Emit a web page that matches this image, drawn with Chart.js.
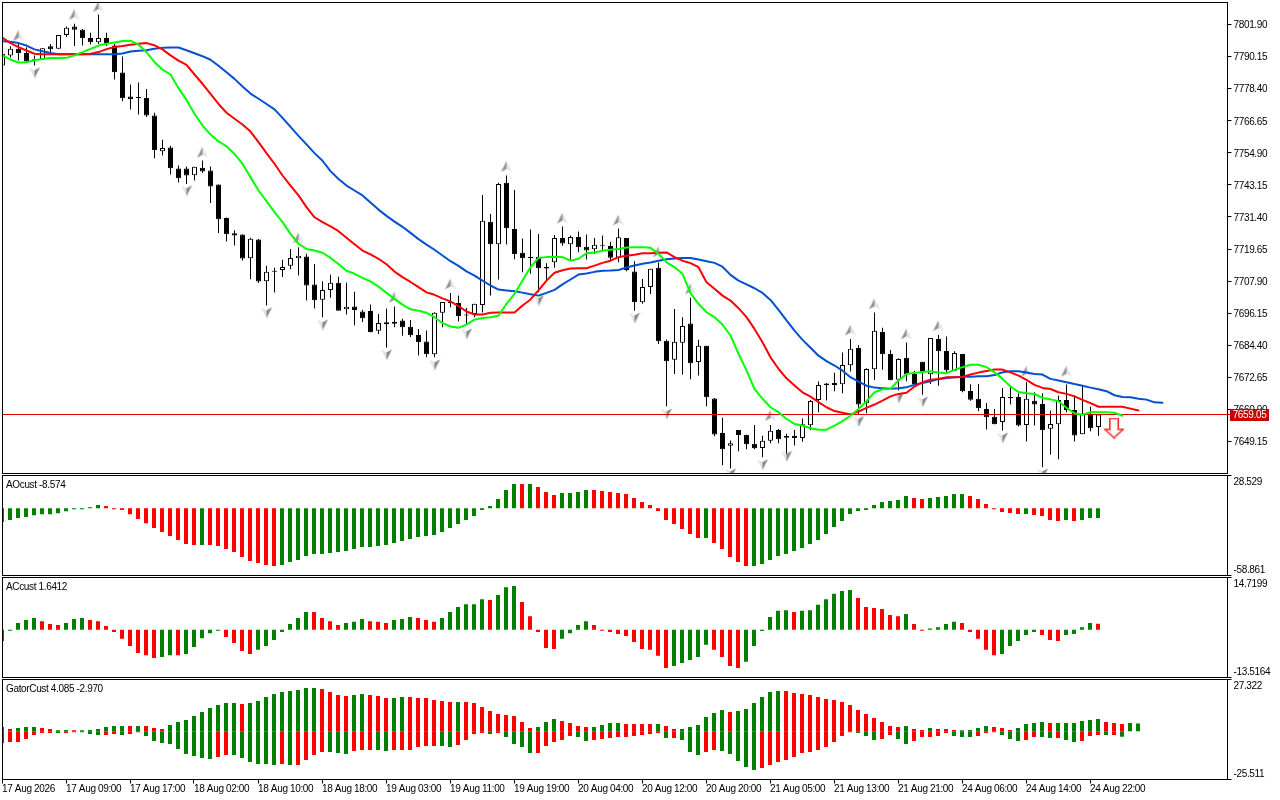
<!DOCTYPE html>
<html><head><meta charset="utf-8"><title>Chart</title>
<script src="https://cdn.jsdelivr.net/npm/chart.js@4/dist/chart.umd.min.js"></script>
<style>html,body{margin:0;padding:0;background:#fff;overflow:hidden}canvas{position:absolute;left:0;display:block}</style>
</head><body>
<canvas id="cMain" width="1280" height="474" style="top:0"></canvas>
<canvas id="cAO" width="1280" height="102" style="top:474px"></canvas>
<canvas id="cAC" width="1280" height="102" style="top:576px"></canvas>
<canvas id="cGator" width="1280" height="122" style="top:678px"></canvas>
<script>
const opens=[7786.9,7790.6,7793.0,7791.5,7788.7,7789.3,7793.9,7793.0,7798.1,7801.2,
7800.0,7797.0,7795.4,7797.0,7794.2,7784.3,7775.5,7775.0,7775.0,7768.6,
7755.5,7756.9,7749.2,7749.2,7746.7,7749.4,7748.4,7743.3,7731.0,7725.4,
7725.0,7716.3,7723.2,7707.9,7711.3,7712.0,7713.5,7716.3,7716.9,7706.7,
7701.1,7704.7,7707.3,7697.6,7698.6,7696.8,7697.0,7689.7,7692.8,7692.3,
7693.5,7691.2,7688.2,7685.8,7681.1,7696.3,7699.9,7699.9,7695.3,7695.9,
7699.2,7729.7,7721.4,7743.9,7727.0,7718.3,7716.4,7716.7,7713.2,7714.8,
7723.7,7721.4,7724.1,7720.5,7719.6,7720.9,7720.8,7716.5,7723.7,7711.4,
7700.2,7705.8,7712.8,7686.1,7679.1,7685.3,7692.4,7678.3,7684.2,7664.9,
7652.3,7647.6,7653.4,7651.6,7648.3,7646.8,7649.4,7653.4,7650.5,7651.3,
7650.4,7655.1,7664.4,7670.4,7669.9,7670.1,7677.1,7683.4,7663.2,7675.6,
7689.3,7681.2,7671.8,7679.8,7673.9,7678.4,7673.8,7686.7,7682.3,7675.1,
7681.2,7667.7,7664.8,7661.1,7658.2,7656.3,7665.5,7665.5,7655.2,7664.1,
7662.9,7653.8,7655.5,7664.4,7660.7,7651.8,7658.9,7654.5];
const highs=[7792.4,7793.9,7795.4,7793.6,7790.6,7793.2,7794.8,7798.1,7801.2,7802.2,
7800.3,7798.9,7805.6,7798.9,7794.8,7790.2,7779.9,7780.7,7778.3,7769.6,
7759.7,7757.5,7750.3,7749.9,7749.8,7752.1,7749.9,7743.3,7731.2,7726.5,
7725.0,7723.8,7723.3,7713.5,7712.8,7715.7,7719.7,7720.3,7717.9,7714.2,
7707.9,7710.2,7709.5,7707.3,7704.0,7697.4,7699.3,7695.9,7697.9,7698.6,
7694.1,7693.7,7690.4,7689.8,7696.5,7700.3,7703.6,7702.6,7698.1,7699.6,
7739.5,7732.5,7743.9,7746.6,7741.3,7723.5,7726.8,7725.2,7714.5,7724.8,
7727.9,7724.6,7726.1,7725.0,7723.7,7724.6,7722.3,7727.2,7723.7,7715.2,
7708.7,7712.4,7714.7,7686.5,7697.7,7694.7,7701.8,7686.4,7684.2,7665.1,
7657.9,7649.5,7653.4,7651.6,7655.2,7651.3,7655.2,7653.7,7652.0,7653.4,
7657.6,7664.4,7671.1,7670.6,7674.3,7681.8,7686.7,7684.5,7676.0,7696.4,
7690.8,7682.7,7679.7,7685.4,7675.1,7678.4,7687.1,7688.2,7687.6,7682.2,
7681.2,7670.1,7670.2,7663.3,7661.1,7668.8,7669.6,7666.8,7670.9,7667.2,
7666.8,7660.5,7666.0,7670.0,7666.0,7669.4,7661.9,7659.05];
const lows=[7786.9,7789.7,7788.7,7788.4,7786.9,7789.3,7791.8,7793.0,7797.3,7794.0,
7794.2,7794.6,7794.8,7794.0,7781.8,7773.8,7770.8,7768.9,7768.0,7752.9,
7753.9,7747.0,7744.0,7743.5,7744.8,7747.5,7736.5,7725.5,7722.4,7721.0,
7715.5,7708.6,7707.2,7699.0,7703.7,7709.4,7712.3,7710.0,7700.8,7697.9,
7694.7,7701.8,7697.1,7695.7,7691.7,7692.9,7689.2,7688.5,7683.6,7691.0,
7687.9,7687.4,7680.7,7680.0,7680.0,7691.0,7698.3,7693.1,7692.0,7694.7,
7696.4,7702.6,7708.5,7721.3,7715.9,7711.2,7710.6,7703.8,7708.1,7712.8,
7720.9,7715.7,7718.5,7715.8,7717.9,7719.1,7715.4,7714.8,7711.5,7697.1,
7699.6,7703.2,7684.9,7662.1,7673.9,7673.7,7672.0,7673.3,7662.1,7651.1,
7640.5,7639.3,7645.6,7646.3,7646.3,7643.4,7648.5,7648.5,7642.8,7647.7,
7649.1,7653.4,7659.9,7664.2,7667.6,7666.8,7674.8,7659.0,7659.5,7671.7,
7675.4,7671.6,7667.8,7671.2,7670.0,7666.3,7670.2,7669.6,7674.5,7675.1,
7667.2,7664.1,7660.2,7653.6,7655.5,7653.2,7662.7,7654.7,7649.2,7655.0,
7639.7,7644.4,7642.7,7659.9,7649.2,7651.8,7652.9,7651.3];
const closes=[7791.2,7793.0,7791.5,7788.4,7789.2,7793.2,7792.8,7798.1,7800.7,7800.0,
7796.9,7795.4,7797.0,7795.1,7784.4,7774.9,7774.6,7775.0,7768.6,7755.9,
7756.7,7749.3,7745.6,7746.6,7749.8,7748.1,7742.6,7730.6,7725.1,7724.6,
7716.2,7723.4,7707.8,7711.3,7711.3,7713.1,7716.4,7717.2,7706.3,7700.9,
7704.7,7707.3,7697.1,7698.5,7697.3,7694.3,7689.2,7692.6,7692.1,7693.0,
7691.0,7688.1,7685.5,7681.1,7696.3,7700.3,7699.9,7695.1,7695.3,7699.6,
7730.0,7721.4,7743.5,7727.3,7717.8,7716.3,7716.4,7712.6,7712.5,7723.7,
7721.7,7724.1,7720.3,7719.1,7721.2,7720.9,7716.5,7724.0,7712.0,7700.2,
7705.8,7712.4,7685.9,7678.6,7685.7,7691.5,7677.8,7684.2,7665.4,7651.7,
7646.3,7648.5,7651.5,7648.2,7646.7,7649.4,7653.1,7650.0,7651.2,7650.4,
7655.5,7664.0,7669.9,7669.8,7670.6,7677.2,7683.1,7662.7,7675.7,7689.7,
7681.1,7671.6,7679.4,7673.9,7670.2,7674.5,7687.1,7682.2,7675.3,7681.6,
7667.6,7664.5,7661.3,7658.0,7655.5,7665.5,7665.0,7655.0,7664.8,7662.7,
7653.3,7655.6,7664.4,7660.7,7651.4,7659.3,7654.0,7659.05];
const jaw=[7795.8,7795.6,7795.1,7794.2,7792.8,7792.1,7791.5,7791.0,7791.0,7791.0,
7791.0,7791.0,7791.0,7791.0,7791.0,7791.3,7792.0,7792.3,7792.5,7793.0,
7793.4,7793.5,7793.5,7792.5,7791.4,7790.3,7789.0,7786.8,7784.4,7782.0,
7779.2,7776.6,7774.7,7772.8,7770.8,7767.7,7764.4,7761.1,7758.0,7754.8,
7752.0,7748.2,7745.3,7742.9,7741.1,7739.3,7736.7,7734.1,7731.8,7729.7,
7727.8,7725.6,7723.3,7721.3,7719.4,7717.3,7715.2,7713.5,7711.5,7709.9,
7708.1,7706.3,7704.8,7704.5,7704.2,7703.7,7703.1,7702.6,7703.6,7704.7,
7706.7,7708.5,7710.3,7710.7,7711.3,7711.7,7711.8,7712.0,7712.9,7713.6,
7714.3,7714.7,7715.4,7715.9,7716.2,7716.4,7716.4,7715.8,7715.2,7714.6,
7713.2,7710.2,7708.1,7706.7,7705.3,7703.6,7701.0,7697.4,7693.5,7689.8,
7686.4,7683.5,7680.6,7678.6,7677.0,7675.1,7672.7,7671.1,7669.6,7668.9,
7668.7,7668.5,7668.7,7669.0,7670.0,7670.6,7671.2,7672.0,7672.4,7672.7,
7672.9,7672.9,7673.1,7673.1,7673.5,7674.5,7674.9,7674.9,7674.4,7673.9,
7673.7,7672.1,7671.5,7670.9,7670.2,7669.6,7668.9,7668.3,7667.6,7666.1,
7665.5,7665.4,7664.8,7664.5,7663.5,7663.4];
const teeth=[7797.0,7795.1,7793.6,7792.4,7791.2,7791.0,7791.0,7791.0,7791.0,7791.0,
7791.0,7791.2,7791.8,7792.9,7793.7,7794.0,7794.5,7794.9,7795.1,7794.3,
7792.8,7790.6,7788.7,7787.1,7783.6,7780.2,7776.5,7772.8,7769.6,7767.4,
7765.3,7762.7,7758.8,7754.8,7750.9,7746.6,7742.9,7739.3,7735.0,7731.3,
7729.5,7728.0,7726.2,7723.8,7721.4,7719.1,7717.7,7716.1,7714.1,7711.4,
7709.4,7707.6,7705.7,7703.8,7702.9,7701.6,7700.5,7698.7,7696.8,7695.7,
7695.7,7696.3,7696.4,7696.4,7696.4,7699.0,7701.2,7704.5,7708.1,7711.0,
7711.9,7712.5,7712.6,7712.6,7713.6,7714.6,7715.4,7716.7,7717.2,7717.6,
7718.1,7718.1,7718.3,7718.4,7716.7,7715.4,7714.5,7713.0,7707.5,7705.1,
7702.6,7700.8,7698.0,7694.7,7690.4,7685.5,7680.0,7675.8,7672.3,7669.7,
7667.2,7665.6,7663.6,7661.7,7660.3,7659.7,7659.1,7660.1,7661.5,7662.7,
7664.1,7665.7,7666.6,7667.0,7669.3,7670.9,7671.8,7672.1,7672.7,7672.7,
7672.8,7673.7,7674.4,7675.0,7675.5,7675.5,7674.5,7673.3,7671.7,7669.9,
7668.8,7668.4,7667.2,7666.6,7665.7,7664.4,7663.2,7661.9,7661.9,7661.9,
7661.9,7661.2,7660.5];
const lips=[7790.6,7789.0,7788.0,7788.1,7788.8,7789.3,7789.6,7789.6,7789.7,7790.6,
7791.8,7793.0,7794.2,7794.9,7795.3,7795.9,7796.0,7794.5,7791.8,7788.1,
7785.4,7783.6,7778.6,7774.3,7769.2,7764.9,7761.6,7759.1,7757.3,7754.5,
7750.9,7746.0,7741.1,7737.2,7733.2,7729.5,7725.2,7721.6,7719.7,7719.1,
7718.3,7716.4,7714.2,7711.7,7710.6,7709.1,7707.8,7705.9,7703.6,7701.4,
7699.3,7697.6,7697.1,7696.3,7694.7,7692.5,7691.3,7690.8,7692.0,7693.8,
7694.4,7694.7,7695.2,7699.6,7703.2,7708.1,7713.0,7716.4,7716.7,7716.7,
7716.7,7715.4,7716.1,7718.1,7718.4,7719.0,7719.4,7719.7,7720.2,7720.3,
7720.3,7720.1,7717.9,7714.8,7713.0,7710.6,7703.5,7699.6,7696.5,7694.7,
7692.0,7688.0,7681.3,7675.2,7668.4,7664.8,7661.7,7659.9,7657.4,7655.6,
7655.0,7654.0,7653.5,7653.5,7655.0,7656.6,7658.6,7661.1,7663.9,7667.2,
7668.3,7668.4,7671.5,7673.9,7674.3,7674.6,7674.9,7674.4,7674.2,7675.4,
7676.4,7677.3,7677.3,7676.4,7674.5,7672.1,7669.3,7667.3,7666.8,7666.6,
7665.1,7664.6,7663.9,7661.5,7659.5,7659.0,7659.9,7659.9,7659.9,7659.7,
7658.6];
const fractalUpBars=[2,9,12,25,37,49,56,63,70,77,82,86,96,106,109,113,117,128,133];
const fractalUpPrices=[7797.9,7805.6,7808.5,7755.1,7723.8,7702.0,7706.9,7749.9,7731.0,7730.3,7718.7,7705.1,7658.7,7690.0,7699.6,7688.6,7691.6,7674.9,7674.9];
const fractalDownBars=[4,23,33,40,48,54,58,67,79,83,91,95,98,107,112,115,125,130];
const fractalDownPrices=[7784.2,7741.0,7696.3,7691.9,7680.9,7677.2,7688.6,7700.8,7694.4,7659.3,7637.3,7640.7,7643.7,7656.5,7665.1,7663.7,7650.5,7637.3];
const signalBars=[138.94];
const signalPrices=[7654.1];
const lastPrice=7659.05;
const lastPriceLabel='7659.05';
const priceTicks=[7801.90,7790.15,7778.40,7766.65,7754.90,7743.15,7731.40,7719.65,7707.90,7696.15,7684.40,7672.65,7660.90,7649.15];

const aoValues=[-12.1,-10.4,-8.6,-7.7,-6.3,-5.4,-5.4,-4.5,-2.8,-0.5,
-0.5,0.4,2.7,1.9,-0.5,-1.6,-5.4,-9.5,-13.3,-17.4,
-20.9,-24.4,-27.8,-31.3,-32.2,-32.2,-32.2,-33.1,-35.7,-38.3,
-42.7,-46.2,-47.9,-49.7,-50.6,-49.7,-47.1,-45.3,-41.8,-40.1,
-40.1,-39.2,-38.3,-37.5,-35.7,-34.0,-34.0,-33.1,-32.2,-30.5,
-28.7,-27.0,-25.2,-24.4,-23.5,-20.9,-17.4,-13.9,-10.4,-6.9,
-1.6,1.9,8.0,15.8,21.1,21.1,21.1,18.5,14.1,11.5,
13.2,13.2,14.1,15.8,15.8,14.9,14.1,13.2,12.4,8.9,
5.4,2.7,-2.5,-10.4,-13.9,-18.2,-22.6,-26.1,-26.1,-30.5,
-35.7,-42.7,-47.1,-50.6,-50.6,-48.8,-45.3,-41.8,-40.1,-37.5,
-34.8,-31.3,-27.8,-22.6,-16.5,-11.2,-5.1,-2.5,-1.6,2.7,
5.4,6.2,7.1,10.6,8.9,8.0,8.9,9.8,10.6,12.4,
12.4,10.6,8.0,3.6,-0.5,-3.4,-4.3,-5.1,-5.1,-6.0,
-6.9,-10.4,-11.2,-10.4,-11.2,-10.4,-8.6,-8.574];
const aoColors=('GGGGGGGGGGGGG RRRRRRRRRRRR G RRRRRRRRR GGGGGGGGGGGGGGGGGGGGGGGGGGGGGG R G RRR GGGG RRRRRRRRRRRRRR G RRRRR GGGGGGGGGGGGGGGGGGGG RR GGGGG RRRRRRR G RRRR G R GGG').replace(/ /g,'');
const aoBounds=[28.529,-58.861];
const aoLabels=['28.529','-58.861'];

const acValues=[-3.2,-0.2,1.9,2.7,3.3,2.4,1.6,1.3,1.9,3.0,
3.3,2.7,2.4,1.0,-0.7,-2.6,-4.6,-6.6,-7.2,-8.0,
-7.7,-7.2,-7.2,-6.9,-4.9,-2.4,-1.0,-0.3,-2.1,-3.8,
-6.0,-6.9,-5.7,-4.6,-2.9,-0.7,1.6,3.3,5.0,5.0,
3.3,2.4,1.3,1.9,2.2,3.0,2.4,2.2,1.9,2.7,
3.0,3.6,3.3,2.7,2.2,3.3,5.0,6.4,7.2,7.2,
8.6,8.4,9.8,12.0,12.3,7.8,3.8,-0.7,-5.2,-5.5,
-2.6,-1.0,1.3,2.4,1.3,-0.1,-0.7,-1.2,-1.8,-3.5,
-5.5,-5.7,-7.4,-10.8,-10.3,-9.4,-8.6,-7.7,-4.3,-5.7,
-7.7,-10.3,-10.8,-9.1,-4.6,-0.4,3.6,5.3,5.5,5.0,
5.3,5.5,7.0,8.6,10.1,10.9,11.2,8.9,6.4,6.1,
5.8,4.1,3.8,4.4,1.6,-0.1,0.3,0.7,1.6,2.2,
1.9,-0.7,-2.6,-5.7,-7.2,-6.9,-4.6,-3.2,-1.5,-0.7,
-1.5,-2.9,-3.2,-1.5,-1.2,0.7,1.9,1.6412];
const acColors=('GGGGG RRR GGG RRRRRRRRR GG R GGGGG RRRR GGGGGGG RRRR GGG RRR GGG RRR GGGGGG R GGG RRRRR GGGG RRRRRRRRRR GGGGG RRRR GGGGGG R GGGGGGG RRRRRR G RR GGGG RRRRR GGGGG RRR GGGG R').replace(/ /g,'');
const acBounds=[14.7199,-13.5164];
const acLabels=['14.7199','-13.5164'];

const gatorUp=[2.2,1.2,1.7,2.2,2.2,1.7,1.2,0.3,0.6,0.1,
0.1,0.6,1.2,2.2,2.7,2.7,2.7,2.7,2.7,1.7,
1.2,3.3,4.9,5.9,8.0,10.1,12.3,13.8,14.9,14.9,
14.4,14.9,16.0,18.1,19.7,20.7,21.2,21.8,22.8,22.8,
22.3,20.7,19.1,18.6,19.1,19.7,19.1,18.6,17.5,17.5,
18.1,18.1,17.5,17.5,16.5,16.0,15.4,15.4,15.4,14.9,
12.8,10.7,9.1,8.6,8.0,4.9,1.7,2.2,4.9,6.4,
5.4,4.3,2.7,2.2,2.2,3.3,4.3,4.3,3.8,3.8,
3.8,3.8,3.8,2.7,1.2,1.2,2.2,3.3,7.5,9.6,
11.2,10.1,10.7,11.7,14.9,18.1,20.7,21.2,21.2,20.2,
19.7,19.1,18.1,17.0,16.5,15.4,13.8,11.2,9.1,7.0,
4.9,2.7,2.2,2.7,1.2,0.6,1.7,1.2,1.2,0.6,
0.1,0.6,1.7,2.7,2.2,1.7,0.6,1.7,3.8,4.3,
4.9,4.3,4.3,4.3,4.3,5.4,5.9,6.4,4.9,4.3,
3.8,4.3,4.085];
const gatorUpColors=('RR GGG RR GG R GGGGGG R G RRR GGGGGGGGG R GGGGGGGGG RRRR GG RRR GG RRRRRR G RRRRRRRRR GGG RRRR GGGG RRRR G RR GGGGGG R GGGGGG RRRRRRRRRRRRRRR G RR G RRR GGGG RRR GGGG R GGGGGG RRR GG').replace(/ /g,'');
const gatorDown=[-6.2,-5.7,-5.7,-4.1,-2.0,-1.0,-1.0,-1.0,-1.0,-0.4,
-0.3,-1.5,-2.0,-2.0,-1.5,-2.0,-1.5,-0.4,-2.5,-5.2,
-6.2,-6.7,-9.4,-12.0,-13.1,-14.2,-14.7,-13.6,-12.6,-12.6,
-14.2,-16.3,-17.3,-17.3,-17.8,-17.3,-17.8,-17.8,-15.2,-12.6,
-11.0,-11.0,-11.5,-12.0,-10.5,-9.9,-9.9,-9.9,-10.5,-9.9,
-9.9,-9.9,-8.3,-7.8,-7.8,-7.8,-8.3,-7.3,-4.6,-1.5,
-1.0,-1.5,-1.0,-3.1,-6.7,-8.3,-11.5,-11.5,-7.8,-5.7,
-4.6,-2.5,-3.1,-5.2,-4.6,-4.1,-3.6,-3.1,-3.1,-2.5,
-2.0,-1.5,-1.0,-3.6,-3.6,-4.6,-11.0,-12.6,-11.0,-9.9,
-10.5,-12.0,-15.7,-18.9,-20.5,-19.4,-17.8,-16.3,-15.2,-13.6,
-11.5,-11.0,-9.9,-8.3,-5.7,-2.5,-0.4,-1.0,-2.5,-4.6,
-4.1,-2.0,-4.1,-6.7,-5.2,-3.1,-3.1,-2.5,-1.0,-2.5,
-3.1,-3.1,-2.5,-1.0,-0.4,-2.0,-4.1,-5.2,-4.6,-3.1,
-3.1,-3.6,-3.6,-4.6,-5.7,-5.2,-2.5,-2.0,-2.0,-2.0,
-2.97];
const gatorDownColors=('G RRRRRR G RR GGG RR G RR GGGGGGGGG RR GGGGGG R G RRRR GGG RRR GG RRRRRR GG RRRR G R GGGG RRRRR GG RRRRRRRRR G R GGG RR GGGGG RRRRRRRRRRRR GGG RR GG RRRRR GGG RRR GGG RR GG R GG RRR G R G').replace(/ /g,'');
const gatorBounds=[27.322,-25.511];
const gatorLabels=['27.322','-25.511'];

const timeTickBars=[0,8,16,24,32,40,48,56,64,72,80,88,96,104,112,120,128,136];
const timeTickLabels=['17 Aug 2026','17 Aug 09:00','17 Aug 17:00','18 Aug 02:00','18 Aug 10:00','18 Aug 18:00','19 Aug 03:00','19 Aug 11:00','19 Aug 19:00','20 Aug 04:00','20 Aug 12:00','20 Aug 20:00','21 Aug 05:00','21 Aug 13:00','21 Aug 21:00','24 Aug 06:00','24 Aug 14:00','24 Aug 22:00'];

const FONT='"Liberation Sans", sans-serif';
const FS=10;
Chart.defaults.font.family=FONT;
Chart.defaults.font.size=FS;
Chart.defaults.color='#000';
const GREEN='#008000',RED='#ff0000';
const colorOf=c=>c==='G'?GREEN:RED;

function dart(up){
  const w=12,h=12,c=document.createElement('canvas');c.width=w;c.height=h;const x=c.getContext('2d');
  const tipY=up?0.5:11.5,cornerY=up?11.5:0.5,notchY=up?8.5:3.5,m=6;
  x.beginPath();x.moveTo(m,tipY);x.lineTo(0.5,cornerY);x.lineTo(m,notchY);x.closePath();
  x.fillStyle=up?'#94908e':'#dfe3ec';x.fill();
  x.beginPath();x.moveTo(m,tipY);x.lineTo(11.5,cornerY);x.lineTo(m,notchY);x.closePath();
  x.fillStyle=up?'#dfe3ec':'#8b8682';x.fill();
  return c;
}
function signalArrow(){
  const c=document.createElement('canvas');c.width=20;c.height=21;const x=c.getContext('2d');
  x.beginPath();x.moveTo(6,1);x.lineTo(14,1);x.lineTo(14,12);x.lineTo(19,12);x.lineTo(10,20);x.lineTo(1,12);x.lineTo(6,12);x.closePath();
  x.lineJoin='miter';x.lineWidth=2;x.strokeStyle='#ff8a7a';x.fillStyle='#fff';x.fill();x.stroke();
  x.lineWidth=1;x.strokeStyle='#f02020';
  x.beginPath();x.moveTo(5.5,.5);x.lineTo(14.5,.5);x.lineTo(14.5,11.5);x.lineTo(19.5,11.5);x.lineTo(10,20.5);x.lineTo(.5,11.5);x.lineTo(5.5,11.5);x.closePath();x.stroke();
  return c;
}

const pts=(arr)=>arr.map((v,i)=>({x:i,y:v}));
const tightText={id:'tightText',beforeDraw(ch){ch.ctx.letterSpacing='-0.35px';}};
const frame={id:'frame',afterDraw(ch){const a=ch.chartArea,c=ch.ctx;c.save();c.strokeStyle='#000';c.lineWidth=1;c.strokeRect(a.left,a.top,a.right-a.left,a.bottom-a.top);c.restore();}};
function legendText(text,y){return {id:'legendText',afterDraw(ch){const c=ch.ctx;c.save();c.font=FS+'px '+FONT;c.fillStyle='#000';c.textBaseline='middle';c.fillText(text,6,y);c.restore();}};}
const priceTag={id:'priceTag',afterDraw(ch){const c=ch.ctx,a=ch.chartArea,y=ch.scales.y.getPixelForValue(lastPrice);c.save();
  c.fillStyle='#d00000';c.fillRect(a.right,Math.round(y-.5),3,1);
  c.fillStyle='#c80000';c.fillRect(1230,Math.round(y-5.5),39,12);c.fillStyle='#fff';c.font=FS+'px '+FONT;c.textBaseline='middle';c.textAlign='center';c.fillText(lastPriceLabel,1249.5,y+.5);c.restore();}};
const noPad=a=>{a.paddingTop=0;a.paddingBottom=0;a.paddingLeft=0;a.paddingRight=0;};

function xScale(min,max,show){
  return {type:'linear',min,max,offset:false,display:show,position:'bottom',
    border:{display:false},
    grid:{offset:false,drawOnChartArea:false,drawTicks:true,tickLength:4,tickColor:'#000'},
    afterBuildTicks:a=>{a.ticks=timeTickBars.map(v=>({value:v}));},
    afterFit:a=>{a.height=show?20:0;noPad(a);},
    ticks:{autoSkip:false,maxRotation:0,minRotation:0,align:'start',padding:0,color:'#000',font:{family:FONT,size:FS},
      callback:(v,i)=>timeTickLabels[i]}};
}
function boundsY(bounds,labels){
  const [top,bot]=bounds,r=top-bot;
  return {type:'linear',position:'right',min:bot,max:top,
    border:{display:false},
    grid:{drawOnChartArea:false,drawTicks:true,tickLength:4,tickColor:c=>(c.index===0||c.index===3)?'#000':'rgba(0,0,0,0)'},
    afterBuildTicks:a=>{a.ticks=[{value:top},{value:top-r*.06},{value:bot+r*.06},{value:bot}];},
    afterFit:a=>{a.width=52.5;noPad(a);},
    ticks:{autoSkip:false,padding:2,labelOffset:1,color:'#000',font:{family:FONT,size:FS},
      callback:(v,i)=>i===1?labels[0]:i===2?labels[1]:''}};
}
function histDataset(vals,cols){
  return {type:'bar',data:vals.map((v,i)=>({x:i,y:v})),backgroundColor:vals.map((v,i)=>colorOf(cols[i])),
    barThickness:4,grouped:false,inflateAmount:0,borderWidth:0,minBarLength:1};
}
function lineDs(vals,color,order){
  return {type:'line',data:pts(vals),borderColor:color,borderWidth:2,pointRadius:0,tension:0,fill:false,order,borderJoinStyle:'round',borderCapStyle:'round'};
}
function scatterDs(xs,ys,style,order){
  return {type:'line',data:xs.map((x,i)=>({x,y:ys[i]})),showLine:false,pointStyle:style,pointRadius:6,pointHoverRadius:6,order,clip:false};
}
const base={responsive:false,maintainAspectRatio:false,animation:false,devicePixelRatio:1,events:[],
  plugins:{legend:{display:false},tooltip:{enabled:false},title:{display:false}}};

new Chart(document.getElementById('cMain'),{type:'bar',
  data:{datasets:[
    {type:'bar',data:lows.map((v,i)=>({x:i,y:[v,highs[i]]})),backgroundColor:'#000',barThickness:1,grouped:false,inflateAmount:0,borderWidth:0,order:7},
    {type:'bar',data:opens.map((v,i)=>({x:i,y:[v,closes[i]]})),backgroundColor:opens.map((v,i)=>closes[i]>v?'#fff':'#000'),borderColor:'#000',borderWidth:1,borderSkipped:false,barThickness:5,grouped:false,inflateAmount:0,minBarLength:1,order:6},
    scatterDs(fractalUpBars,fractalUpPrices,dart(true),5),
    scatterDs(fractalDownBars,fractalDownPrices,dart(false),5),
    {type:'line',data:[{x:0,y:lastPrice},{x:153.125,y:lastPrice}],borderColor:'#dc0000',borderWidth:1,pointRadius:0,order:4},
    lineDs(jaw,'#0050d0',3),
    lineDs(teeth,'#ff0000',2),
    lineDs(lips,'#00ff00',1),
    scatterDs(signalBars,signalPrices,signalArrow(),0)
  ]},
  options:{...base,layout:{autoPadding:false,padding:{left:2.5,top:2.5,right:0,bottom:.5}},
    scales:{x:{...xScale(0,153.125,false)},
      y:{type:'linear',position:'right',min:7637.44,max:7809.97,border:{display:false},
        grid:{drawOnChartArea:false,drawTicks:true,tickLength:4,tickColor:'#000'},
        afterBuildTicks:a=>{a.ticks=priceTicks.map(v=>({value:v}));},
        afterFit:a=>{a.width=52.5;noPad(a);},
        ticks:{autoSkip:false,padding:2,labelOffset:1,color:'#000',font:{family:FONT,size:FS},callback:v=>v.toFixed(2)}}}},
  plugins:[tightText,frame,priceTag]});

new Chart(document.getElementById('cAO'),{type:'bar',
  data:{datasets:[histDataset(aoValues,aoColors)]},
  options:{...base,layout:{autoPadding:false,padding:{left:2.5,top:1.5,right:0,bottom:.5}},
    scales:{x:xScale(.0625,153.1875,false),y:boundsY(aoBounds,aoLabels)}},
  plugins:[tightText,frame,legendText('AOcust -8.574',11)]});

new Chart(document.getElementById('cAC'),{type:'bar',
  data:{datasets:[histDataset(acValues,acColors)]},
  options:{...base,layout:{autoPadding:false,padding:{left:2.5,top:1.5,right:0,bottom:.5}},
    scales:{x:xScale(.0625,153.1875,false),y:boundsY(acBounds,acLabels)}},
  plugins:[tightText,frame,legendText('ACcust 1.6412',11)]});

new Chart(document.getElementById('cGator'),{type:'bar',
  data:{datasets:[histDataset(gatorUp,gatorUpColors),histDataset(gatorDown,gatorDownColors)]},
  options:{...base,layout:{autoPadding:false,padding:{left:2.5,top:1.5,right:0,bottom:.5}},
    scales:{x:xScale(.0625,153.1875,true),y:boundsY(gatorBounds,gatorLabels)}},
  plugins:[tightText,frame,legendText('GatorCust 4.085 -2.970',11)]});
</script>
</body></html>
